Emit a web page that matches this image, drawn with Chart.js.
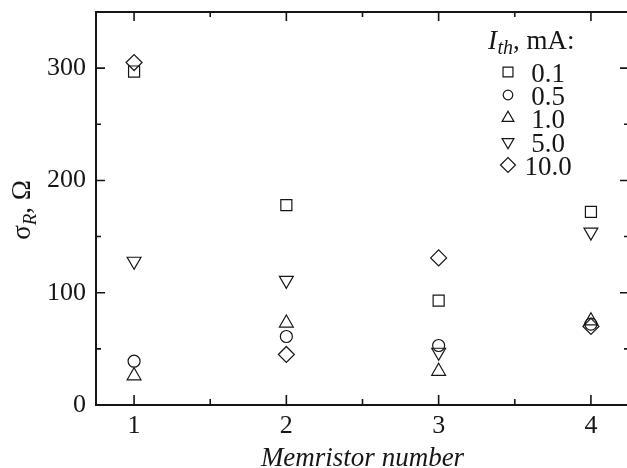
<!DOCTYPE html>
<html><head><meta charset="utf-8">
<script src="https://cdn.jsdelivr.net/npm/chart.js@4/dist/chart.umd.min.js"></script>
<style>
html,body{margin:0;padding:0;background:#fff;overflow:hidden;width:627px;height:468px}
#wrap{position:relative;width:640px;height:468px}
</style></head><body><div id="wrap"><canvas id="c" width="640" height="468"></canvas></div>
<script>
// ---- data ----
const memristors = [1, 2, 3, 4];
const sigmaI01 = [297, 178, 93, 172];   // I_th = 0.1 mA
const sigmaI05 = [39, 61, 53, 72];      // I_th = 0.5 mA
const sigmaI10 = [26, 73, 30, 75];      // I_th = 1.0 mA
const sigmaI50 = [128, 111, 47, 154];   // I_th = 5.0 mA
const sigmaI100 = [305, 45, 131, 70];   // I_th = 10.0 mA
const seriesLabels = ['0.1', '0.5', '1.0', '5.0', '10.0'];
const xTickLabels = [1, 2, 3, 4];
const yTickLabels = [0, 100, 200, 300];

const seriesValues = [sigmaI01, sigmaI05, sigmaI10, sigmaI50, sigmaI100];
const markerStyles = [
  {pointStyle: 'rect', rotation: 0, radius: 7.8, legendRadius: 7},
  {pointStyle: 'circle', rotation: 0, radius: 6, legendRadius: 4.8},
  {pointStyle: 'triangle', rotation: 0, radius: 8, legendRadius: 6.8},
  {pointStyle: 'triangle', rotation: 180, radius: 8, legendRadius: 6.8},
  {pointStyle: 'rectRot', rotation: 0, radius: 8, legendRadius: 7.5}
];
const INK = '#161616';
const SERIF = '"Liberation Serif", "Times New Roman", serif';

const datasets = seriesValues.map((vals, i) => ({
  label: seriesLabels[i],
  data: memristors.map((m, j) => ({x: m, y: vals[j]})),
  pointStyle: markerStyles[i].pointStyle,
  rotation: markerStyles[i].rotation,
  pointRadius: markerStyles[i].radius,
  pointBorderWidth: 1.2,
  borderColor: INK,
  backgroundColor: 'rgba(0,0,0,0)',
  pointBackgroundColor: 'rgba(0,0,0,0)',
  pointBorderColor: INK,
  showLine: false
}));

function drawMarker(ctx, style, r, x, y) {
  const opts = {pointStyle: style.pointStyle, rotation: style.rotation, radius: r, borderWidth: 1.2};
  ctx.save();
  ctx.strokeStyle = INK;
  ctx.fillStyle = 'rgba(0,0,0,0)';
  ctx.lineWidth = 1.2;
  Chart.helpers.drawPoint(ctx, opts, x, y);
  ctx.restore();
}

const decor = {
  id: 'decor',
  afterDraw(chart) {
    const ctx = chart.ctx;
    const a = chart.chartArea;
    const xs = chart.scales.x, ys = chart.scales.y;
    ctx.save();
    ctx.strokeStyle = INK;
    ctx.lineWidth = 2;
    ctx.strokeRect(a.left, a.top, a.right - a.left, a.bottom - a.top);
    ctx.lineWidth = 1.6;
    ctx.beginPath();
    for (let v = 1; v <= 4.001; v += 0.5) {
      const px = xs.getPixelForValue(v);
      const major = Math.abs(v - Math.round(v)) < 1e-6;
      const lb = major ? 10 : 6, lt = major ? 9 : 5;
      ctx.moveTo(px, a.bottom); ctx.lineTo(px, a.bottom - lb);
      ctx.moveTo(px, a.top); ctx.lineTo(px, a.top + lt);
    }
    for (let v = 0; v <= 350; v += 50) {
      const py = ys.getPixelForValue(v);
      const major = v % 100 === 0;
      const l = major ? 9 : 5;
      ctx.moveTo(a.left, py); ctx.lineTo(a.left + l, py);
      ctx.moveTo(a.right, py); ctx.lineTo(a.right - l, py);
    }
    ctx.stroke();

    ctx.fillStyle = INK;
    ctx.textBaseline = 'alphabetic';
    // x title
    ctx.font = 'italic 27px ' + SERIF;
    ctx.textAlign = 'center';
    ctx.fillText('Memristor number', (a.left + a.right) / 2, 466);

    // y title: sigma_R, Omega (rotated)
    ctx.save();
    ctx.translate(30, 210);
    ctx.rotate(-Math.PI / 2);
    ctx.textAlign = 'left';
    const p1 = 'σ', p2 = 'R', p3 = ', Ω';
    ctx.font = '27px ' + SERIF; const w1 = ctx.measureText(p1).width, w3 = ctx.measureText(p3).width;
    ctx.font = 'italic 19px ' + SERIF; const w2 = ctx.measureText(p2).width;
    let x0 = -(w1 + w2 + w3) / 2;
    ctx.font = '27px ' + SERIF; ctx.fillText(p1, x0, 0); x0 += w1;
    ctx.font = 'italic 19px ' + SERIF; ctx.fillText(p2, x0, 6); x0 += w2;
    ctx.font = '27px ' + SERIF; ctx.fillText(p3, x0, 0);
    ctx.restore();

    // legend title: I_th, mA:
    ctx.textAlign = 'left';
    let lx = 488;
    ctx.font = 'italic 27px ' + SERIF; ctx.fillText('I', lx, 49); lx += ctx.measureText('I').width + 0.5;
    ctx.font = 'italic 20px ' + SERIF; ctx.fillText('th', lx, 54); lx += ctx.measureText('th').width;
    ctx.font = '27px ' + SERIF; ctx.fillText(', mA:', lx, 49);

    // legend rows
    const rowY = [72, 95, 118, 142, 165];
    ctx.textAlign = 'center';
    seriesLabels.forEach((lab, i) => {
      ctx.font = '27px ' + SERIF;
      ctx.fillStyle = INK;
      ctx.fillText(lab, 548, rowY[i] + 9.5);
      drawMarker(ctx, markerStyles[i], markerStyles[i].legendRadius, 508, rowY[i]);
    });
    ctx.restore();
  }
};

new Chart(document.getElementById('c'), {
  type: 'scatter',
  data: {datasets},
  plugins: [decor],
  options: {
    responsive: false,
    animation: false,
    layout: {padding: {top: 12, right: 11, left: 0, bottom: 0}},
    plugins: {legend: {display: false}, tooltip: {enabled: false}},
    scales: {
      x: {
        type: 'linear', min: 0.75, max: 4.25,
        grid: {display: false, drawTicks: false},
        border: {display: false},
        afterBuildTicks: s => { s.ticks = xTickLabels.map(v => ({value: v})); },
        afterFit: s => { s.height = 63; s.paddingLeft = 0; s.paddingRight = 0; },
        ticks: {font: {family: SERIF, size: 26}, color: INK, padding: 6, maxRotation: 0, autoSkip: false}
      },
      y: {
        type: 'linear', min: 0, max: 350,
        grid: {display: false, drawTicks: false},
        border: {display: false},
        afterBuildTicks: s => { s.ticks = yTickLabels.map(v => ({value: v})); },
        afterFit: s => { s.width = 96; s.paddingTop = 0; s.paddingBottom = 0; },
        ticks: {font: {family: SERIF, size: 26}, color: INK, padding: 10, autoSkip: false}
      }
    }
  }
});
</script></body></html>
